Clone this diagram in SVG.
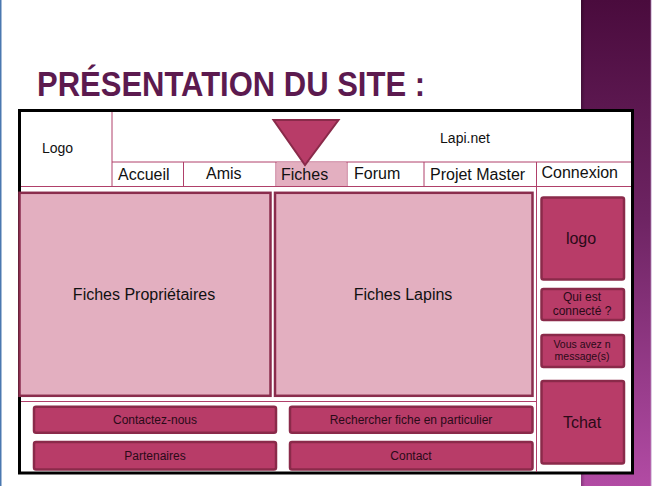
<svg xmlns="http://www.w3.org/2000/svg" width="652" height="486" viewBox="0 0 652 486">
  <defs>
    <linearGradient id="band" x1="0" y1="0" x2="0" y2="1">
      <stop offset="0" stop-color="#4a0b3d"/>
      <stop offset="0.45" stop-color="#6e2463"/>
      <stop offset="1" stop-color="#b24ba4"/>
    </linearGradient>
    <linearGradient id="bandEdge" x1="0" y1="0" x2="1" y2="0">
      <stop offset="0" stop-color="#000" stop-opacity="0.25"/>
      <stop offset="1" stop-color="#000" stop-opacity="0"/>
    </linearGradient>
    <style>
      text { font-family: "Liberation Sans", Arial, sans-serif; fill: #111; }
      .title { font-weight: bold; fill: #5c1a4f; font-size: 35px; }
      .grid { stroke: #b0406a; stroke-width: 1; fill: none; }
      .panel { fill: #e3afc0; stroke: #8a2d4d; stroke-width: 2.5; }
      .btn { fill: #b83c68; stroke: #8a2a4a; stroke-width: 2.5; }
      .btn-text { fill: #2a0a18; }
      .nav { font-size: 16px; }
    </style>
  </defs>

  <!-- page background -->
  <rect x="0" y="0" width="652" height="486" fill="#ffffff"/>
  <rect x="0" y="0" width="1.5" height="486" fill="#4a78b0"/>
  <rect x="581" y="0" width="70" height="486" fill="url(#band)"/>
  <rect x="581" y="0" width="4" height="486" fill="url(#bandEdge)"/>
  <rect x="650.5" y="0" width="1.5" height="486" fill="#c8a8d0" opacity="0.6"/>

  <!-- heading -->
  <text class="title" x="37" y="96" textLength="388" lengthAdjust="spacingAndGlyphs">PRÉSENTATION DU SITE :</text>

  <!-- page frame -->
  <g id="frame">
    <rect x="19.5" y="110.5" width="613" height="362.5" fill="#ffffff" stroke="#000" stroke-width="3"/>
  </g>

  <!-- grid lines of the layout -->
  <g id="connectors">
    <line class="grid" x1="112" y1="112" x2="112" y2="186.5"/>
    <line class="grid" x1="112" y1="162" x2="631" y2="162"/>
    <line class="grid" x1="183.5" y1="162" x2="183.5" y2="186.5"/>
    <line class="grid" x1="276" y1="162" x2="276" y2="186.5"/>
    <line class="grid" x1="347" y1="162" x2="347" y2="186.5"/>
    <line class="grid" x1="424" y1="162" x2="424" y2="186.5"/>
    <line class="grid" x1="536.5" y1="162" x2="536.5" y2="472"/>
    <line class="grid" x1="21" y1="186.5" x2="631" y2="186.5"/>
    <line class="grid" x1="21" y1="401.5" x2="536.5" y2="401.5"/>
  </g>

  <!-- header -->
  <g id="logo-header">
    <text x="42" y="153" font-size="14">Logo</text>
  </g>
  <g id="site-name">
    <text x="465" y="143" font-size="14" text-anchor="middle">Lapi.net</text>
  </g>

  <!-- navigation -->
  <g id="nav-accueil"><text class="nav" x="118" y="180">Accueil</text></g>
  <g id="nav-amis"><text class="nav" x="206" y="179">Amis</text></g>
  <g id="nav-fiches">
    <rect x="276.5" y="162.5" width="70" height="23.5" fill="#e3afc0"/>
    <text class="nav" x="281" y="179.5">Fiches</text>
  </g>
  <g id="nav-forum"><text class="nav" x="354" y="179">Forum</text></g>
  <g id="nav-projet"><text class="nav" x="430" y="179.5">Projet Master</text></g>
  <g id="nav-connexion"><text class="nav" x="541.5" y="177.5">Connexion</text></g>

  <!-- pointer over the active tab -->
  <g id="pointer">
    <polygon points="273.5,120 338.5,120 305,165" fill="#b83c68" stroke="#8a2a4a" stroke-width="2" stroke-linejoin="miter"/>
  </g>

  <!-- main content -->
  <g id="fiches-proprietaires">
    <rect class="panel" x="19.5" y="192.8" width="251" height="203"/>
    <text x="144" y="300" font-size="16" text-anchor="middle">Fiches Propriétaires</text>
  </g>
  <g id="fiches-lapins">
    <rect class="panel" x="275" y="192.8" width="257.5" height="203"/>
    <text x="403" y="300" font-size="16" text-anchor="middle">Fiches Lapins</text>
  </g>

  <!-- side column -->
  <g id="side-logo">
    <rect class="btn" x="541.5" y="197.5" width="82.5" height="82" rx="2"/>
    <text class="btn-text" x="581" y="243.5" font-size="16" text-anchor="middle">logo</text>
  </g>
  <g id="side-connectes">
    <rect class="btn" x="541.5" y="289" width="82.5" height="31" rx="2"/>
    <text class="btn-text" x="582" y="300.5" font-size="12" text-anchor="middle">Qui est</text>
    <text class="btn-text" x="582" y="315" font-size="12" text-anchor="middle">connecté ?</text>
  </g>
  <g id="side-messages">
    <rect class="btn" x="541.5" y="335" width="82.5" height="32" rx="2"/>
    <text class="btn-text" x="582" y="347.5" font-size="10.5" text-anchor="middle">Vous avez n</text>
    <text class="btn-text" x="582" y="360" font-size="10.5" text-anchor="middle">message(s)</text>
  </g>
  <g id="side-tchat">
    <rect class="btn" x="541.5" y="381" width="82.5" height="82.5" rx="2"/>
    <text class="btn-text" x="582" y="427.5" font-size="16" text-anchor="middle">Tchat</text>
  </g>

  <!-- footer buttons -->
  <g id="btn-contactez">
    <rect class="btn" x="34" y="406.8" width="242" height="26" rx="2"/>
    <text class="btn-text" x="155" y="423.5" font-size="12" text-anchor="middle">Contactez-nous</text>
  </g>
  <g id="btn-partenaires">
    <rect class="btn" x="34" y="442" width="242" height="27.5" rx="2"/>
    <text class="btn-text" x="155" y="459.5" font-size="12" text-anchor="middle">Partenaires</text>
  </g>
  <g id="btn-rechercher">
    <rect class="btn" x="290" y="406.8" width="242.5" height="26" rx="2"/>
    <text class="btn-text" x="411" y="423.5" font-size="12" text-anchor="middle">Rechercher fiche en particulier</text>
  </g>
  <g id="btn-contact">
    <rect class="btn" x="290" y="442" width="242.5" height="27.5" rx="2"/>
    <text class="btn-text" x="411" y="459.5" font-size="12" text-anchor="middle">Contact</text>
  </g>
</svg>
